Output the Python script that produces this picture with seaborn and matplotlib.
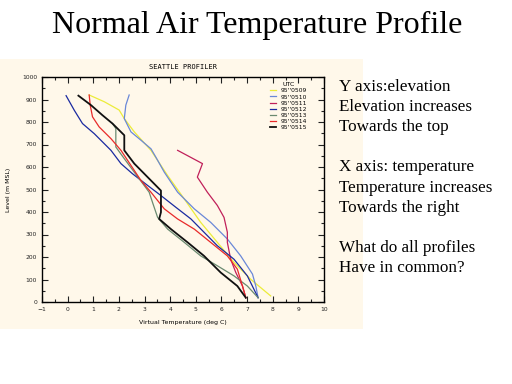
import numpy as np
import pandas as pd
import matplotlib
matplotlib.use('Agg')
import matplotlib.pyplot as plt
import seaborn as sns
from matplotlib.patches import Rectangle

# ---------------------------------------------------------
# Profile data (temp degC, height m)
# ---------------------------------------------------------
labels = ["95''0509", "95''0510", "95''0511", "95''0512", "95''0513", "95''0514", "95''0515"]
colors = ['#ecec3a', '#6a88d8', '#c0205a', '#1a2aa0', '#6a8a70', '#e82a2a', '#101010']

yellow_t = [0.84, 1.43, 2.01, 2.21, 2.60, 3.25, 3.90, 4.55, 5.19, 5.84, 6.49, 7.14, 7.53, 7.92]
yellow_z = [920, 890, 853, 815, 756, 674, 562, 458, 354, 265, 176, 101, 64, 27]

ltblue_t = [2.40, 2.27, 2.21, 2.47, 2.86, 3.25, 3.44, 3.77, 4.29, 4.94, 5.58, 6.23, 6.75, 7.21, 7.34, 7.43]
ltblue_z = [920, 875, 815, 756, 719, 681, 644, 577, 488, 414, 354, 280, 205, 124, 71, 19]

magenta_t = [4.29, 5.26, 5.06, 5.45, 5.84, 6.10, 6.23, 6.23, 6.36, 6.56, 6.82, 6.95]
magenta_z = [674, 615, 555, 488, 429, 376, 310, 265, 190, 131, 71, 19]

navy_t = [-0.06, 0.26, 0.58, 1.04, 1.69, 2.08, 2.53, 3.12, 3.64, 4.22, 4.81, 5.32, 5.84, 6.49, 7.01, 7.43]
navy_z = [917, 852, 793, 748, 674, 615, 570, 518, 473, 421, 369, 310, 250, 190, 116, 19]

green_t = [1.75, 1.88, 1.88, 2.21, 2.60, 3.18, 3.31, 3.51, 3.90, 4.55, 5.19, 5.84, 6.49, 7.01, 7.43]
green_z = [793, 771, 689, 637, 577, 488, 443, 376, 324, 265, 205, 161, 116, 71, 19]

red_t = [0.84, 0.88, 0.97, 1.23, 1.69, 2.08, 2.47, 2.86, 3.25, 3.77, 4.29, 4.94, 5.58, 6.23, 6.62, 6.82, 6.95]
red_z = [920, 875, 823, 778, 726, 674, 607, 540, 488, 414, 369, 324, 265, 205, 146, 71, 19]

black_t = [0.42, 0.91, 1.36, 1.75, 2.21, 2.21, 2.60, 3.12, 3.64, 3.64, 3.57, 4.03, 4.68, 5.32, 5.97, 6.62, 6.95]
black_z = [917, 875, 830, 793, 741, 674, 615, 555, 495, 399, 369, 324, 265, 205, 131, 71, 19]

profiles_t = [yellow_t, ltblue_t, magenta_t, navy_t, green_t, red_t, black_t]
profiles_z = [yellow_z, ltblue_z, magenta_z, navy_z, green_z, red_z, black_z]

xticks = list(range(-1, 11))
yticks = list(range(0, 1001, 100))

notes = ["Y axis:elevation", "Elevation increases", "Towards the top", "",
         "X axis: temperature", "Temperature increases", "Towards the right", "",
         "What do all profiles", "Have in common?"]

# build long table for seaborn
rows = []
for lab, ts, zs in zip(labels, profiles_t, profiles_z):
    for i, (t, z) in enumerate(zip(ts, zs)):
        rows.append({'UTC': lab, 'temp': t, 'height': z, 'order': i})
df = pd.DataFrame(rows)

cream = '#fff8ea'
fig = plt.figure(figsize=(5.12, 3.84), dpi=100)
fig.patch.set_facecolor('white')
fig.patches.append(Rectangle((0, 1 - 329 / 384), 363 / 512, (329 - 59) / 384,
                             transform=fig.transFigure, facecolor=cream,
                             edgecolor='none', zorder=-5))

ax = fig.add_axes([42 / 512, 1 - 302 / 384, 282 / 512, 225 / 384])
ax.set_facecolor(cream)
ax.set_zorder(2)

palette = dict(zip(labels, colors))
for lab in labels:
    sub = df[df['UTC'] == lab]
    sns.lineplot(data=sub, x='temp', y='height', sort=False, estimator=None,
                 color=palette[lab], lw=1.3 if lab == labels[-1] else 0.9,
                 ax=ax, label=lab)

ax.set_xlim(-1, 10)
ax.set_ylim(0, 1000)
ax.set_xticks(xticks)
ax.set_yticks(yticks)
ax.set_xticks(np.arange(-1, 10.01, 0.5), minor=True)
ax.set_yticks(np.arange(0, 1001, 50), minor=True)
ax.tick_params(which='both', direction='in', top=True, right=True,
               labelsize=4.3, colors='#222222', width=0.8)
ax.tick_params(which='major', length=4)
ax.tick_params(which='minor', length=2)
for sp in ax.spines.values():
    sp.set_linewidth(1.0)
ax.set_xlabel('Virtual Temperature (deg C)', fontsize=4.5, labelpad=6)
ax.set_ylabel('Level (m MSL)', fontsize=4.5, labelpad=8)
ax.set_title('SEATTLE PROFILER', fontsize=5, pad=6, fontfamily='DejaVu Sans Mono')

leg = ax.legend(title='UTC', loc='upper right', fontsize=4.3, title_fontsize=4.5,
                frameon=False, handlelength=1.0, labelspacing=0.15,
                bbox_to_anchor=(0.96, 1.0))

fig.text(257 / 512, 1 - 25 / 384, 'Normal Air Temperature Profile',
         fontsize=23, family='Liberation Serif', ha='center', va='center')

y0 = 87
for i, line in enumerate(notes):
    if line:
        fig.text(339 / 512, 1 - (y0 + i * 20.1) / 384, line,
                 fontsize=12.3, family='Liberation Serif', ha='left', va='center')

fig.savefig('out.png', dpi=100, facecolor='white')
